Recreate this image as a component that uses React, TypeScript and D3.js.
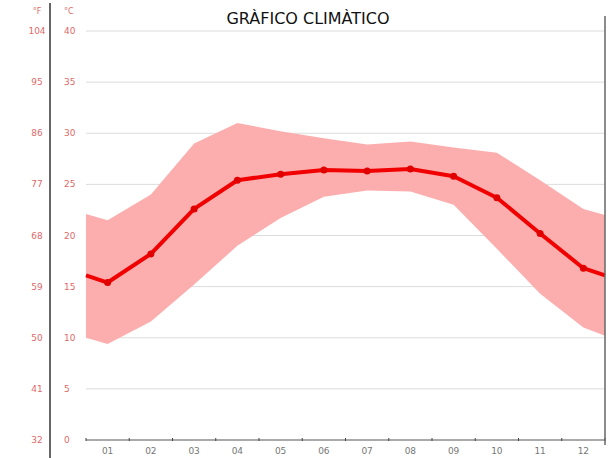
import React, { useEffect, useRef } from "react";
import * as d3 from "d3";

// months shown on the x axis
const months = ["01", "02", "03", "04", "05", "06", "07", "08", "09", "10", "11", "12"];

// average temperature (°C) per month
const meanTemp = [15.4, 18.2, 22.6, 25.4, 26.0, 26.4, 26.3, 26.5, 25.8, 23.7, 20.2, 16.8];
// max / min band per month
const maxTemp = [21.5, 24.0, 29.0, 31.0, 30.2, 29.5, 28.9, 29.2, 28.6, 28.1, 25.4, 22.6];
const minTemp = [9.4, 11.6, 15.2, 19.0, 21.7, 23.8, 24.4, 24.3, 23.0, 18.7, 14.3, 11.0];

// values at the left / right border of the plot
const edgeMean = [16.1, 16.1];
const edgeMax = [22.1, 22.0];
const edgeMin = [10.0, 10.2];

// tick labels on the two temperature scales
const celsiusTicks = [0, 5, 10, 15, 20, 25, 30, 35, 40];
const fahrenheitTicks = [32, 41, 50, 59, 68, 77, 86, 95, 104];

const title = "GRÀFICO CLIMÀTICO";

const App = () => {
  const ref = useRef<SVGSVGElement>(null);

  useEffect(() => {
    const width = 614,
      height = 458;
    const left = 86,
      right = 605,
      top = 31,
      bottom = 440;

    const svg = d3.select(ref.current);
    svg.selectAll("*").remove();

    const x = d3.scaleLinear().domain([0, 12]).range([left, right]);
    const y = d3.scaleLinear().domain([0, 40]).range([bottom, top]);

    // points: left edge, month centres, right edge
    const pts = [
      { x: 0, mean: edgeMean[0], max: edgeMax[0], min: edgeMin[0] },
      ...months.map((m, i) => ({ x: i + 0.5, mean: meanTemp[i], max: maxTemp[i], min: minTemp[i] })),
      { x: 12, mean: edgeMean[1], max: edgeMax[1], min: edgeMin[1] },
    ];

    // grid lines
    svg
      .append("g")
      .selectAll("line")
      .data(celsiusTicks.slice(1))
      .enter()
      .append("line")
      .attr("x1", left)
      .attr("x2", right)
      .attr("y1", (d) => y(d))
      .attr("y2", (d) => y(d))
      .attr("stroke", "#dcdcdc")
      .attr("stroke-width", 1);

    // min/max band
    const area = d3
      .area<any>()
      .x((d) => x(d.x))
      .y0((d) => y(d.min))
      .y1((d) => y(d.max));
    svg.append("path").datum(pts).attr("d", area).attr("fill", "#fcaeae");

    // mean line
    const line = d3
      .line<any>()
      .x((d) => x(d.x))
      .y((d) => y(d.mean));
    svg
      .append("path")
      .datum(pts)
      .attr("d", line)
      .attr("fill", "none")
      .attr("stroke", "#f00000")
      .attr("stroke-width", 4)
      .attr("stroke-linejoin", "round");

    svg
      .append("g")
      .selectAll("circle")
      .data(pts.slice(1, 13))
      .enter()
      .append("circle")
      .attr("cx", (d) => x(d.x))
      .attr("cy", (d) => y(d.mean))
      .attr("r", 3.5)
      .attr("fill", "#e00000");

    // x axis
    const xAxis = svg.append("g");
    xAxis
      .append("line")
      .attr("x1", left)
      .attr("x2", right)
      .attr("y1", bottom)
      .attr("y2", bottom)
      .attr("stroke", "#555")
      .attr("stroke-width", 1.2);
    xAxis
      .selectAll(".tick")
      .data(d3.range(0, 13))
      .enter()
      .append("line")
      .attr("x1", (d) => x(d))
      .attr("x2", (d) => x(d))
      .attr("y1", bottom - 2)
      .attr("y2", bottom + 1)
      .attr("stroke", "#444");
    xAxis
      .selectAll("text")
      .data(months)
      .enter()
      .append("text")
      .attr("x", (d, i) => x(i + 0.5))
      .attr("y", bottom + 14)
      .attr("text-anchor", "middle")
      .attr("font-size", 9)
      .attr("fill", "#777")
      .attr("font-family", "DejaVu Sans, sans-serif")
      .text((d) => d);

    // frame lines
    svg
      .append("line")
      .attr("x1", 50)
      .attr("x2", 50)
      .attr("y1", 3)
      .attr("y2", height)
      .attr("stroke", "#666")
      .attr("stroke-width", 2);
    svg
      .append("line")
      .attr("x1", right)
      .attr("x2", right)
      .attr("y1", 16)
      .attr("y2", bottom + 5)
      .attr("stroke", "#666")
      .attr("stroke-width", 1.5);

    // temperature labels
    const labelColor = "#e06a6a";
    svg
      .append("g")
      .selectAll("text")
      .data(celsiusTicks)
      .enter()
      .append("text")
      .attr("x", 64)
      .attr("y", (d) => y(d) + 3)
      .attr("font-size", 9)
      .attr("fill", labelColor)
      .attr("font-family", "DejaVu Sans, sans-serif")
      .text((d) => d);
    svg
      .append("g")
      .selectAll("text")
      .data(fahrenheitTicks)
      .enter()
      .append("text")
      .attr("x", 37)
      .attr("y", (d, i) => y(celsiusTicks[i]) + 3)
      .attr("text-anchor", "middle")
      .attr("font-size", 9)
      .attr("fill", labelColor)
      .attr("font-family", "DejaVu Sans, sans-serif")
      .text((d) => d);
    svg
      .append("text")
      .attr("x", 37)
      .attr("y", 14)
      .attr("text-anchor", "middle")
      .attr("font-size", 8)
      .attr("fill", labelColor)
      .attr("font-family", "DejaVu Sans, sans-serif")
      .text("°F");
    svg
      .append("text")
      .attr("x", 64)
      .attr("y", 14)
      .attr("font-size", 8)
      .attr("fill", labelColor)
      .attr("font-family", "DejaVu Sans, sans-serif")
      .text("°C");

    // title
    svg
      .append("text")
      .attr("x", 308)
      .attr("y", 24)
      .attr("text-anchor", "middle")
      .attr("font-size", 16)
      .attr("fill", "#111")
      .attr("font-family", "DejaVu Sans, sans-serif")
      .text(title);

    svg.attr("width", width).attr("height", height);
  }, []);

  return (
    <svg
      ref={ref}
      width={614}
      height={458}
      style={{ position: "absolute", left: 0, top: 0, background: "#fff" }}
    />
  );
};

export default App;
